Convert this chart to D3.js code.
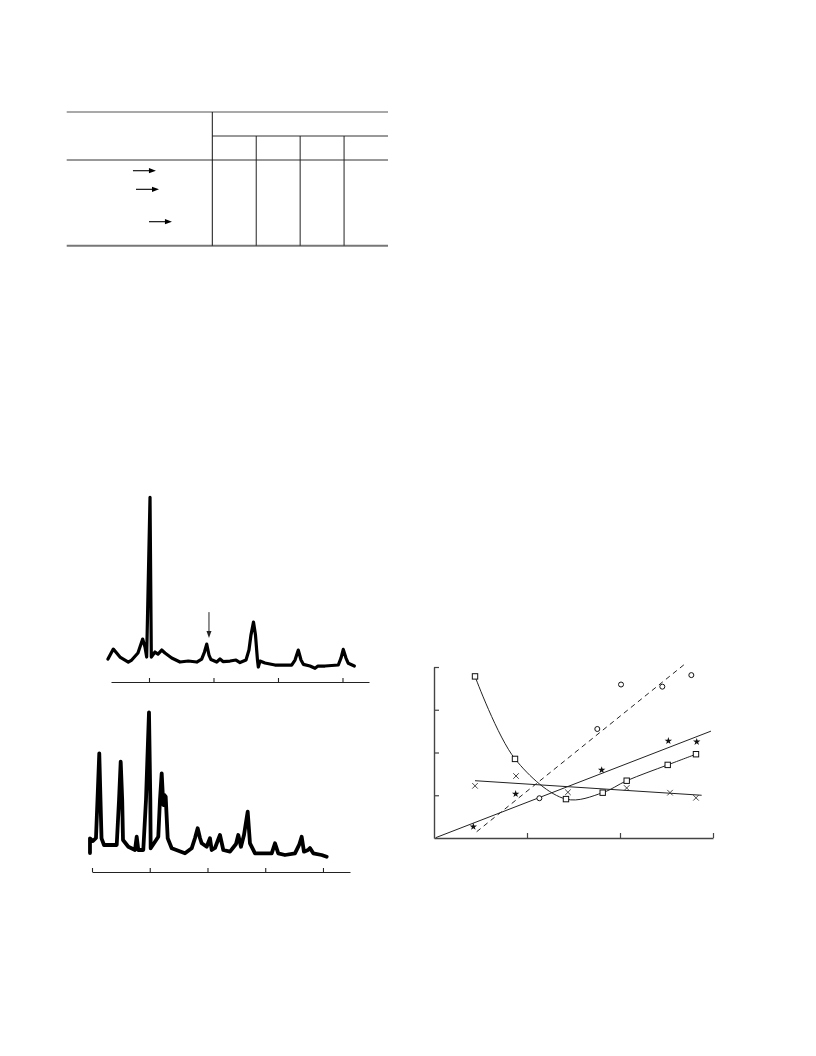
<!DOCTYPE html>
<html>
<head>
<meta charset="utf-8">
<script src="https://cdn.jsdelivr.net/npm/d3@7"></script>
<style>
  html, body { margin: 0; padding: 0; background: #fff; }
  svg { display: block; }
</style>
</head>
<body>
<div id="chart"></div>
<script>
// ---------------- DATA ----------------
// Table: 1 stub column + 4 data columns, 3 marked rows (arrows)
const tableCols = ["stub", "c1", "c2", "c3", "c4"];
const tableArrowRows = [0.125, 0.342, 0.72];     // relative position in body
const tableArrowIndent = [0.455, 0.476, 0.565];  // relative x within stub

// Spectrum A (top) : 2θ, intensity
const specA_theta = [13.64,14.47,15.50,16.79,17.32,18.29,19.02,19.38,19.64,20.16,20.36,20.93,21.40,21.97,22.48,23.52,24.81,26.09,27.40,28.17,28.60,28.95,29.30,29.61,30.50,31.01,31.47,32.56,33.49,34.11,35.04,35.50,35.81,36.20,36.51,36.82,36.95,37.21,37.98,39.53,42.12,42.64,43.15,43.57,43.93,44.96,45.74,46.20,47.29,49.35,49.77,50.12,50.54,50.90,51.83];
const specA_int   = [23,33,25,20,22,29,43,35,25,185,25,30,28,32,29,24,20,21,20,23,30,38,27,22.5,20,23,20.5,21,22,19.5,22,32,47,60,47,22,15,21,19,17,17,22,32,22,17.7,16,13.7,16,16,17,24,32.7,24,18.7,16];
const specA_ticks = [20, 30, 40, 50];
const specA_arrow = { theta: 29.3, from: 70, to: 44 };

// Spectrum B (bottom)
const specB_theta = [9.65,9.65,10.17,10.69,10.95,11.26,11.47,11.65,12.08,14.28,14.68,14.97,15.23,15.37,16.29,17.45,17.74,18.02,18.88,19.35,19.87,20.10,20.16,20.91,21.48,21.77,22.07,22.35,22.52,22.76,23.11,23.80,26.10,27.26,27.84,28.30,28.70,29.00,29.86,30.43,30.73,31.30,32.16,32.74,33.90,34.94,35.33,35.80,36.32,36.96,37.36,38.23,41.12,41.69,42.26,43.42,45.15,45.72,45.93,46.31,46.71,47.41,47.75,48.32,49.77,50.64];
const specB_int   = [19,33.7,31,34,72,118.7,72,33.7,27,27,72,110.3,72,32,25.3,22,35.3,22,22,72,159.7,72,23.7,30.3,35.3,72,98.7,67,77,75.3,33.7,23.7,18.7,23.7,34,43.7,34,28.7,25.3,33.7,22,24,37,22,20.3,28,37,25.3,37,60.3,28.7,18.7,18.7,28.7,18.7,17,18.7,25.3,28,35.3,20.3,22,24,18.7,17,15.3];
const specB_ticks = [10, 20, 30, 40, 50];

// Scatter plot
const xTicks = [1, 2, 3];
const yTicks = [1, 2, 3, 4];
const sqX = [0.441, 0.871, 1.419, 1.814, 2.072, 2.513, 2.817];
const sqY = [3.78, 1.85, 0.91, 1.06, 1.34, 1.71, 1.96];
const ciX = [1.133, 1.756, 2.011, 2.455, 2.767];
const ciY = [0.93, 2.55, 3.59, 3.54, 3.81];
const stX = [0.423, 0.878, 1.803, 2.52, 2.825];
const stY = [0.265, 1.03, 1.59, 2.27, 2.25];
const crX = [0.441, 0.882, 1.44, 2.072, 2.538, 2.817];
const crY = [1.22, 1.45, 1.07, 1.17, 1.06, 0.94];
const fitCircleX = [0.459, 2.692], fitCircleY = [0.147, 4.06];
const fitStarX = [0.018, 2.978],   fitStarY = [0.007, 2.5];
const fitCrossX = [0.441, 2.878],  fitCrossY = [1.34, 1.0];

// ---------------- DRAW ----------------
const svg = d3.select("#chart").append("svg").attr("width", 816).attr("height", 1056);

// ===== Table =====
(function () {
  const g = svg.append("g");
  const x = d3.scaleLinear().domain([0, 1]).range([66.7, 388]);
  const stubRight = 212.3;
  const colX = d3.scaleLinear().domain([0, 4]).range([stubRight, 388]);
  const yTop = 112, ySub = 136, yHead = 160, yBot = 245.7;
  g.append("line").attr("x1", x(0)).attr("x2", x(1)).attr("y1", yTop).attr("y2", yTop)
    .attr("stroke", "#555").attr("stroke-width", 1.1);
  g.append("line").attr("x1", colX(0)).attr("x2", colX(4)).attr("y1", ySub).attr("y2", ySub)
    .attr("stroke", "#333").attr("stroke-width", 1);
  g.append("line").attr("x1", x(0)).attr("x2", x(1)).attr("y1", yHead).attr("y2", yHead)
    .attr("stroke", "#333").attr("stroke-width", 1);
  g.append("line").attr("x1", x(0)).attr("x2", x(1)).attr("y1", yBot).attr("y2", yBot)
    .attr("stroke", "#777").attr("stroke-width", 2);
  g.append("line").attr("x1", colX(0)).attr("x2", colX(0)).attr("y1", yTop).attr("y2", yBot)
    .attr("stroke", "#111").attr("stroke-width", 1);
  g.selectAll("line.col").data(d3.range(1, tableCols.length - 1)).enter().append("line")
    .attr("x1", d => colX(d)).attr("x2", d => colX(d))
    .attr("y1", ySub).attr("y2", yBot).attr("stroke", "#222").attr("stroke-width", 1);
  const rowY = d3.scaleLinear().domain([0, 1]).range([yHead, yBot]);
  const stubX = d3.scaleLinear().domain([0, 1]).range([66.7, stubRight]);
  tableArrowRows.forEach((r, i) => {
    const x0 = stubX(tableArrowIndent[i]), x1 = x0 + 23, y = rowY(r);
    g.append("line").attr("x1", x0).attr("x2", x1 - 5).attr("y1", y).attr("y2", y)
      .attr("stroke", "#000").attr("stroke-width", 1.1);
    g.append("path").attr("d", `M${x1},${y} L${x1 - 7},${y - 2.6} L${x1 - 7},${y + 2.6} Z`).attr("fill", "#000");
  });
})();

// ===== Spectra =====
function spectrum(thetas, ints, ticks, domainX, rangeX, axisY, yMax, topY, sw) {
  const g = svg.append("g");
  const x = d3.scaleLinear().domain(domainX).range(rangeX);
  const y = d3.scaleLinear().domain([0, yMax]).range([axisY, topY]);
  const data = thetas.map((t, i) => [t, ints[i]]);
  g.append("path").datum(data)
    .attr("d", d3.line().x(d => x(d[0])).y(d => y(d[1])))
    .attr("fill", "none").attr("stroke", "#000").attr("stroke-width", sw)
    .attr("stroke-linejoin", "round").attr("stroke-linecap", "round");
  const ax = d3.axisTop(x).tickValues(ticks).tickSize(4).tickFormat("").tickSizeOuter(0);
  const ag = g.append("g").attr("transform", `translate(0,${axisY})`).call(ax);
  ag.select(".domain").attr("stroke", "#222").attr("stroke-width", 1.1);
  ag.selectAll(".tick line").attr("stroke", "#222").attr("stroke-width", 1.1);
  return { g, x, y };
}

const A = spectrum(specA_theta, specA_int, specA_ticks, [14.11, 54.11], [111, 369], 682, 185, 497.3, 3.2);
// arrow marker on spectrum A
(function () {
  const ax = A.x(specA_arrow.theta), y0 = A.y(specA_arrow.from), y1 = A.y(specA_arrow.to);
  A.g.append("line").attr("x1", ax).attr("x2", ax).attr("y1", y0).attr("y2", y1 - 5)
    .attr("stroke", "#222").attr("stroke-width", 1);
  A.g.append("path").attr("d", `M${ax},${y1} L${ax - 2.5},${y1 - 7} L${ax + 2.5},${y1 - 7} Z`).attr("fill", "#222");
})();

spectrum(specB_theta, specB_int, specB_ticks, [10, 54.68], [92, 350], 872, 159.7, 712.3, 3.8);

// ===== Scatter plot =====
(function () {
  const g = svg.append("g");
  const x = d3.scaleLinear().domain([0, 3]).range([434, 713]);
  const y = d3.scaleLinear().domain([0, 4]).range([838, 667]);

  const xa = g.append("g").attr("transform", "translate(0,838)")
    .call(d3.axisTop(x).tickValues(xTicks).tickSize(5).tickFormat("").tickSizeOuter(0));
  const ya = g.append("g").attr("transform", "translate(434,0)")
    .call(d3.axisRight(y).tickValues(yTicks).tickSize(5).tickFormat("").tickSizeOuter(0));
  [xa, ya].forEach(a => {
    a.select(".domain").attr("stroke", "#444").attr("stroke-width", 1.4);
    a.selectAll(".tick line").attr("stroke", "#444").attr("stroke-width", 1.2);
  });

  const line = d3.line().x(d => x(d[0])).y(d => y(d[1]));
  const zip = (a, b) => a.map((v, i) => [v, b[i]]);

  // fits
  g.append("path").datum(zip(sqX, sqY))
    .attr("d", d3.line().x(d => x(d[0])).y(d => y(d[1])).curve(d3.curveCatmullRom.alpha(0.5)))
    .attr("fill", "none").attr("stroke", "#222").attr("stroke-width", 1);
  g.append("path").datum(zip(fitCircleX, fitCircleY)).attr("d", line)
    .attr("fill", "none").attr("stroke", "#222").attr("stroke-width", 1).attr("stroke-dasharray", "5,4");
  g.append("path").datum(zip(fitStarX, fitStarY)).attr("d", line)
    .attr("fill", "none").attr("stroke", "#222").attr("stroke-width", 1);
  g.append("path").datum(zip(fitCrossX, fitCrossY)).attr("d", line)
    .attr("fill", "none").attr("stroke", "#222").attr("stroke-width", 1);

  // markers
  g.selectAll("rect.sq").data(zip(sqX, sqY)).enter().append("rect")
    .attr("x", d => x(d[0]) - 2.7).attr("y", d => y(d[1]) - 2.7)
    .attr("width", 5.4).attr("height", 5.4)
    .attr("fill", "#fff").attr("stroke", "#111").attr("stroke-width", 1);
  g.selectAll("circle.ci").data(zip(ciX, ciY)).enter().append("circle")
    .attr("cx", d => x(d[0])).attr("cy", d => y(d[1])).attr("r", 2.5)
    .attr("fill", "#fff").attr("stroke", "#111").attr("stroke-width", 1);
  const star = d3.symbol().type(d3.symbolStar).size(17);
  g.selectAll("path.st").data(zip(stX, stY)).enter().append("path")
    .attr("d", star).attr("transform", d => `translate(${x(d[0])},${y(d[1])})`)
    .attr("fill", "#111");
  const cross = d3.symbol().type(d3.symbolX).size(22);
  g.selectAll("path.cr").data(zip(crX, crY)).enter().append("path")
    .attr("d", cross).attr("transform", d => `translate(${x(d[0])},${y(d[1])})`)
    .attr("fill", "none").attr("stroke", "#333").attr("stroke-width", 0.9);
})();
</script>
</body>
</html>
